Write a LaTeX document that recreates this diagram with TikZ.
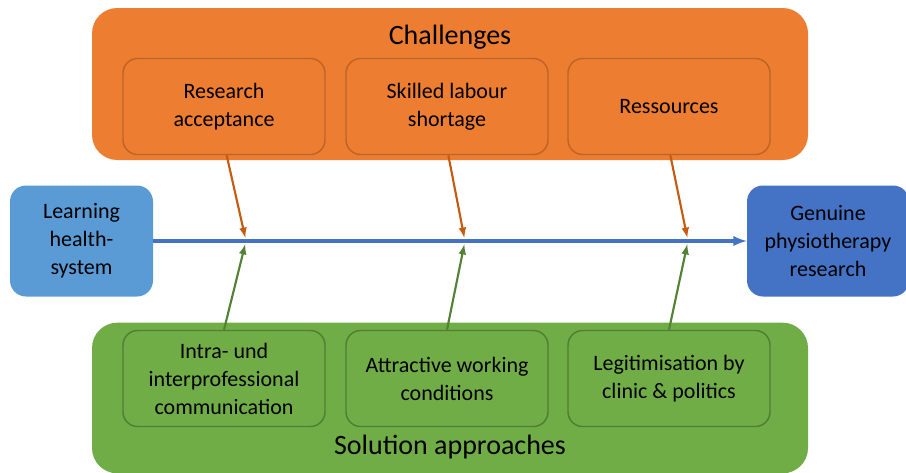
\documentclass[tikz,border=0pt]{standalone}
\usepackage{fontspec}
\setmainfont{Carlito}
\usetikzlibrary{positioning, arrows}
\definecolor{chalfill}{HTML}{ED7D31}
\definecolor{chaldraw}{HTML}{BE6428}
\definecolor{chalarrow}{HTML}{C55A11}
\definecolor{solfill}{HTML}{70AD47}
\definecolor{soldraw}{HTML}{507E32}
\definecolor{solarrow}{HTML}{538135}
\definecolor{lhsfill}{HTML}{5B9BD5}
\definecolor{gprfill}{HTML}{4472C4}
\tikzset{>=latex,
every node/.style={font=\fontsize{16.5}{21}\selectfont, align=center},
group/.style={rounded corners=19pt, minimum width=537pt},
item/.style={draw, line width=1.1pt, rounded corners=11pt,
  minimum width=151.5pt, minimum height=72pt},
goal/.style={rounded corners=12pt, minimum height=83.25pt},
title/.style={font=\fontsize{21}{25}\selectfont},
chalarr/.style={->, draw=chalarrow, line width=1.6pt, shorten >=2.5pt},
solarr/.style={->, draw=solarrow, line width=1.6pt, shorten >=2.5pt},
}

\begin{document}
\begin{tikzpicture}[x=0.75pt, y=-0.75pt]
    \useasboundingbox (0,0) rectangle (906,472);
    % the two groups
        \node[group, fill=chalfill, minimum height=114pt] (chal) at (450,84) {};
        \node[title] (chaltitle) at (450,37) {Challenges};
        \node[group, fill=solfill, minimum height=113pt] (sol) at (450,398) {};
        \node[title] (soltitle) at (450,447) {Solution approaches};
    % challenges
        \node[item, draw=chaldraw, fill=chalfill] (res) at (224,106.5) {Research\\acceptance};
        \node[item, draw=chaldraw, fill=chalfill] (lab) at (447,106.5) {Skilled labour\\shortage};
        \node[item, draw=chaldraw, fill=chalfill] (src) at (669,106.5) {Ressources};
    % solutions
        \node[item, draw=soldraw, fill=solfill] (comm) at (224,378.5) {Intra- und\\interprofessional\\communication};
        \node[item, draw=soldraw, fill=solfill] (work) at (447,378.5) {Attractive working\\conditions};
        \node[item, draw=soldraw, fill=solfill] (legit) at (669,378.5) {Legitimisation by\\clinic \& politics};
    % start and goal
        \node[goal, fill=lhsfill, minimum width=107.25pt] (lhs) at (81.5,241) {Learning\\health-\\system};
        \node[goal, fill=gprfill, minimum width=121.5pt] (gpr) at (828,241) {Genuine\\physiotherapy\\research};
        \coordinate (j1) at (246,241);
        \coordinate (j2) at (465,241);
        \coordinate (j3) at (688,241);
        \draw[->, gprfill, line width=2.4pt] (lhs) -- (gpr);
        \path
        ([xshift=2pt]res.south) edge[chalarr] (j1)
        ([xshift=1pt]lab.south) edge[chalarr] (j2)
        ([xshift=1pt]src.south) edge[chalarr] (j3)
        (comm.north) edge[solarr] (j1)
        (work.north) edge[solarr] (j2)
        (legit.north) edge[solarr] (j3);
    \end{tikzpicture}
\end{document}
